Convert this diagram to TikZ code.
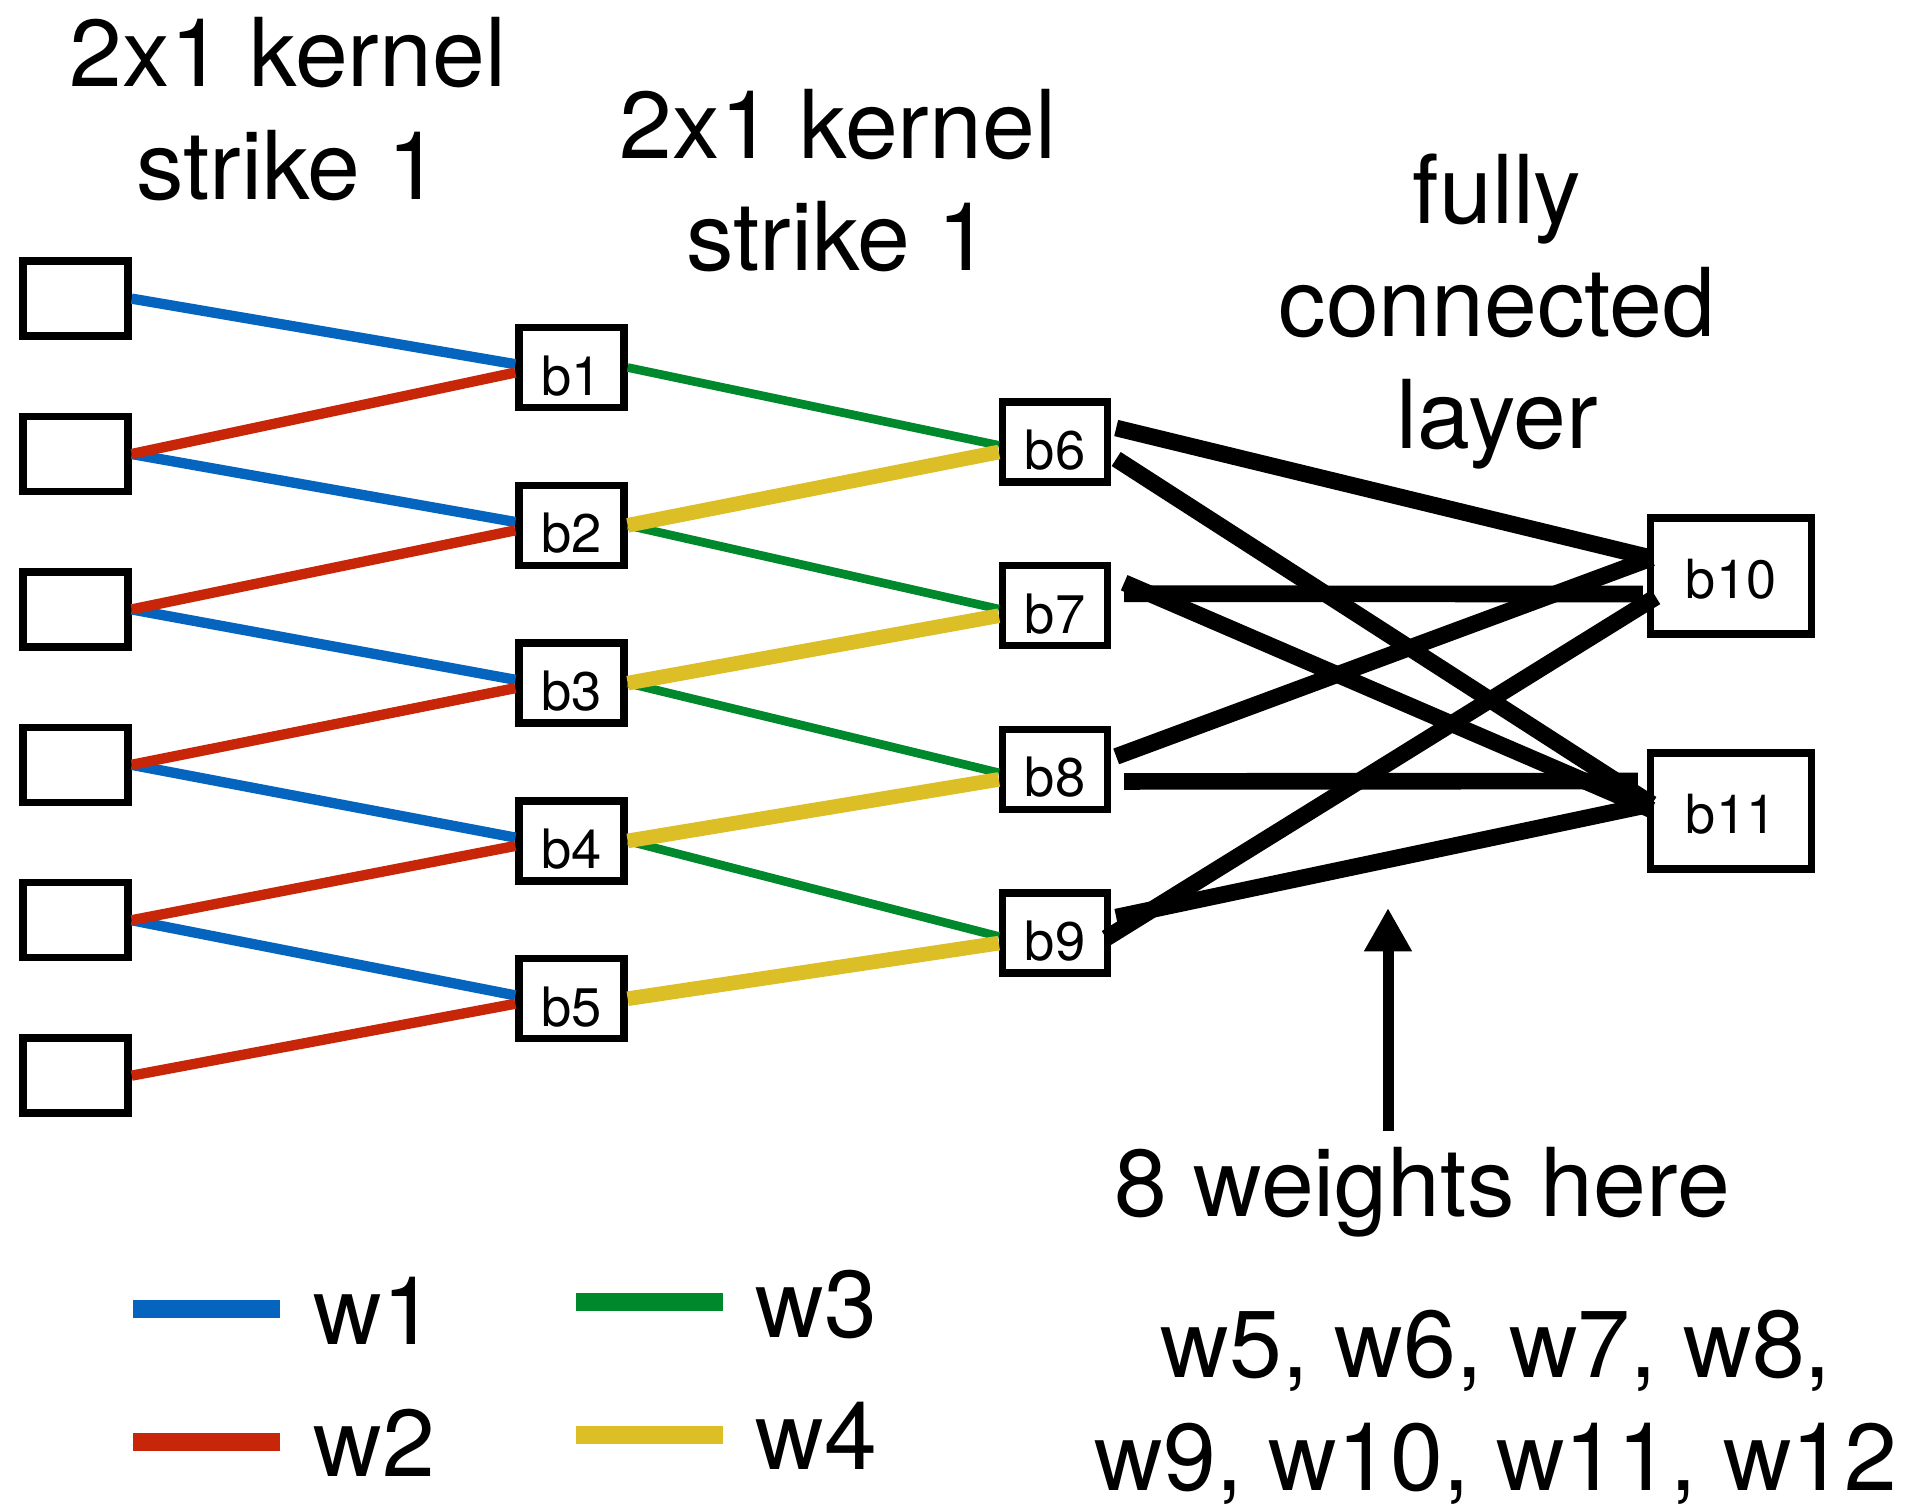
\documentclass[tikz,border=0pt]{standalone}
\usepackage{fontspec}
\setmainfont{TeX Gyre Heros}
\usetikzlibrary{arrows.meta}

\definecolor{wblue}{RGB}{4,100,190}
\definecolor{wred}{RGB}{200,38,9}
\definecolor{wgreen}{RGB}{0,137,44}
\definecolor{wyellow}{RGB}{220,190,38}

\tikzset{
  inbox/.style={draw,line width=2.2pt,minimum width=31.5pt,minimum height=22.5pt,inner sep=0pt},
  hidbox/.style={inbox,minimum height=24pt,font=\fontsize{16.3}{18}\selectfont,text height=16.5pt,text depth=0pt},
  outbox/.style={inbox,minimum width=48.3pt,minimum height=34.8pt,font=\fontsize{16.2}{18}\selectfont,text height=13.6pt,text depth=0pt},
  title/.style={align=center,inner sep=0pt,anchor=base,font=\fontsize{28.5}{33.75}\selectfont},
  lbl/.style={inner sep=0pt,anchor=base west,font=\fontsize{28.5}{33.75}\selectfont},
  wone/.style={wblue,line width=3.1pt},
  wtwo/.style={wred,line width=3.1pt},
  wthree/.style={wgreen,line width=2.6pt},
  wfour/.style={wyellow,line width=4.4pt},
  fc/.style={black,line width=5pt},
  swatch/.style={line width=5.4pt}
}

\begin{document}
\begin{tikzpicture}[x=0.3pt,y=-0.3pt]
\useasboundingbox (0,0) rectangle (1911,1507);

%Shape: input column
\node[inbox] (in1) at (75.5,298.6) {};
\node[inbox] (in2) at (75.5,454) {};
\node[inbox] (in3) at (75.5,609.4) {};
\node[inbox] (in4) at (75.5,764.8) {};
\node[inbox] (in5) at (75.5,920.2) {};
\node[inbox] (in6) at (75.5,1075.6) {};

%Shape: first conv layer
\node[hidbox] (b1) at (571.5,367.5) {b1};
\node[hidbox] (b2) at (571.5,525.3) {b2};
\node[hidbox] (b3) at (571.5,683.1) {b3};
\node[hidbox] (b4) at (571.5,840.9) {b4};
\node[hidbox] (b5) at (571.5,998.7) {b5};

%Shape: second conv layer
\node[hidbox] (b6) at (1055,442) {b6};
\node[hidbox] (b7) at (1055,605.7) {b7};
\node[hidbox] (b8) at (1055,769.4) {b8};
\node[hidbox] (b9) at (1055,933.1) {b9};

%Shape: output
\node[outbox] (b10) at (1731,576) {b10};
\node[outbox] (b11) at (1731,811) {b11};

%Straight Lines: w1 / w2
\draw[wone] (in1.east) -- ([yshift=1pt]b1.west);
\draw[wone] (in2.east) -- ([yshift=1pt]b2.west);
\draw[wone] (in3.east) -- ([yshift=1pt]b3.west);
\draw[wone] (in4.east) -- ([yshift=1pt]b4.west);
\draw[wone] (in5.east) -- ([yshift=1pt]b5.west);
\draw[wtwo] (in2.east) -- ([yshift=-1.5pt]b1.west);
\draw[wtwo] (in3.east) -- ([yshift=-1.5pt]b2.west);
\draw[wtwo] (in4.east) -- ([yshift=-1.5pt]b3.west);
\draw[wtwo] (in5.east) -- ([yshift=-1.5pt]b4.west);
\draw[wtwo] (in6.east) -- ([yshift=-1.5pt]b5.west);

%Straight Lines: w3 / w4
\draw[wthree] (b1.east) -- ([yshift=-1pt]b6.west);
\draw[wthree] (b2.east) -- ([yshift=-1pt]b7.west);
\draw[wthree] (b3.east) -- ([yshift=-1pt]b8.west);
\draw[wthree] (b4.east) -- ([yshift=-1pt]b9.west);
\draw[wfour] (b2.east) -- ([yshift=-3pt]b6.west);
\draw[wfour] (b3.east) -- ([yshift=-3pt]b7.west);
\draw[wfour] (b4.east) -- ([yshift=-3pt]b8.west);
\draw[wfour] (b5.east) -- ([yshift=-3pt]b9.west);

%Straight Lines: fully connected
\draw[fc] ([shift={(5,-14)}]b6.east) -- ([shift={(5,-18)}]b10.west);
\draw[fc] ([shift={(5,17)}]b6.east) -- ([shift={(5,-7)}]b11.west);
\draw[fc] ([shift={(13,-12)}]b7.east) -- ([shift={(-4,18)}]b10.west);
\draw[fc] ([shift={(13,-23)}]b7.east) -- ([shift={(5,-1)}]b11.west);
\draw[fc] ([shift={(5,-13)}]b8.east) -- ([shift={(5,-18)}]b10.west);
\draw[fc] ([shift={(13,12)}]b8.east) -- ([shift={(-9,-30)}]b11.west);
\draw[fc] ([shift={(-5,5)}]b9.east) -- ([shift={(9,21)}]b10.west);
\draw[fc] ([shift={(5,-16)}]b9.east) -- ([shift={(5,-7)}]b11.west);

%Straight Lines: pointer
\coordinate (tail) at (1388,1131);
\coordinate (tip) at (1388,908);
\draw[line width=3.3pt,-{Triangle[length=13pt,width=13.5pt]}] (tail) -- (tip);

% Text Node
\node[title] (k1) at (288,199) {2x1 kernel\\strike 1};
% Text Node
\node[title] (k2) at (838,270.6) {2x1 kernel\\strike 1};
% Text Node
\node[title] (fcl) at (1497,448.5) {fully\\connected\\layer};
% Text Node
\node[title] (eight) at (1422,1216) {8 weights here};
% Text Node
\node[title] (wlist) at (1496,1490) {w5, w6, w7, w8,\\w9, w10, w11, w12};

%Legend
\draw[wone,swatch] (133,1309) -- (280,1309);
\node[lbl] (lw1) at (313,1344) {w1};
\draw[wtwo,swatch] (133,1442) -- (280,1442);
\node[lbl] (lw2) at (313,1476) {w2};
\draw[wthree,swatch] (576,1302) -- (723,1302);
\node[lbl] (lw3) at (755,1337) {w3};
\draw[wfour,swatch] (576,1435) -- (723,1435);
\node[lbl] (lw4) at (755,1469) {w4};

\end{tikzpicture}
\end{document}
